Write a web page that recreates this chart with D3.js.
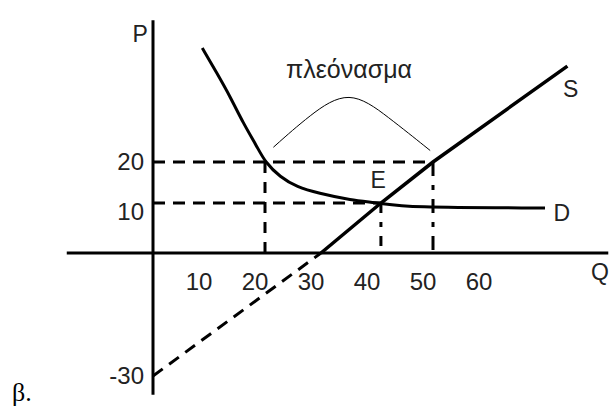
<!DOCTYPE html>
<html>
<head>
<meta charset="utf-8">
<script src="https://cdn.jsdelivr.net/npm/d3@7"></script>
<style>
    body { margin: 0; background: #fff; }
    svg { display: block; }
    text { font-family: 'Liberation Sans', Arial, sans-serif; fill: #222; }
</style>
</head>
<body>
<svg id="chart" width="609" height="412"></svg>
<script>
// demand curve (hand drawn)
const demandQ = [8.8, 11.4, 13.8, 16.1, 18.6, 20, 22.7, 25.7, 29.5, 35.2, 40.7, 45, 70],
    demandP = [47.8, 41.7, 35.9, 29.5, 23.7, 20, 16.3, 13.9, 12.4, 10.7, 10, 9.1, 9];

// supply line: dashed below the Q axis, solid above
const supplyLowQ = [0, 30],
    supplyLowP = [-30, 0],
    supplyQ = [30, 40.7, 50, 74],
    supplyP = [0, 10, 20, 43.4];

// equilibrium and surplus points
const eqQ = 40.7, eqP = 10,
    surplusP = 20, surplusQd = 20, surplusQs = 50;

// "πλεόνασμα" bump over the surplus
const bumpQ = [21.5, 28, 35, 42, 49.5],
    bumpP = [23.6, 31.5, 38, 31, 22.8];

const qTicks = [10, 20, 30, 40, 50, 60],
    pTicks = [20, 10, -30];

const d3svg = d3.select('#chart');

// P axis is not evenly spaced in the drawing, so a piecewise scale
const x = d3.scaleLinear().domain([0, 50]).range([153, 433]),
    y = d3.scaleLinear().domain([-30, 0, 10, 20]).range([376, 253, 203, 162]);

const toPts = (qs, ps) => qs.map((q, i) => [x(q), y(ps[i])]);

// axes
d3svg.append('line')
    .attr('x1', x(-15.4)).attr('x2', x(81.3))
    .attr('y1', y(0)).attr('y2', y(0))
    .attr('stroke', '#000').attr('stroke-width', 3);

d3svg.append('line')
    .attr('x1', x(0)).attr('x2', x(0))
    .attr('y1', y(54.6)).attr('y2', y(-34.6))
    .attr('stroke', '#000').attr('stroke-width', 3);

// dashed guides
const guides = [
    { q1: 0, p1: surplusP, q2: surplusQs, p2: surplusP, dash: '12,8' },
    { q1: 0, p1: eqP, q2: eqQ, p2: eqP, dash: '12,8' },
    { q1: surplusQd, p1: surplusP, q2: surplusQd, p2: 0, dash: '11,9' },
    { q1: surplusQs, p1: surplusP, q2: surplusQs, p2: 0, dash: '14,9,5,9' },
    { q1: eqQ, p1: eqP, q2: eqQ, p2: 0, dash: '10,9,5,9' }
];

d3svg.selectAll('.guide')
    .data(guides)
    .enter().append('line')
    .attr('class', 'guide')
    .attr('x1', d => x(d.q1)).attr('y1', d => y(d.p1))
    .attr('x2', d => x(d.q2)).attr('y2', d => y(d.p2))
    .attr('stroke', '#000')
    .attr('stroke-width', 3)
    .attr('stroke-dasharray', d => d.dash);

// demand
d3svg.append('path')
    .attr('d', d3.line().curve(d3.curveBasis)(toPts(demandQ, demandP)))
    .attr('fill', 'none')
    .attr('stroke', '#000')
    .attr('stroke-width', 3);

// supply
d3svg.append('path')
    .attr('d', d3.line()(toPts(supplyLowQ, supplyLowP)))
    .attr('fill', 'none')
    .attr('stroke', '#000')
    .attr('stroke-width', 3)
    .attr('stroke-dasharray', '12,8');

d3svg.append('path')
    .attr('d', d3.line()(toPts(supplyQ, supplyP)))
    .attr('fill', 'none')
    .attr('stroke', '#000')
    .attr('stroke-width', 3.5);

// surplus bump
d3svg.append('path')
    .attr('d', d3.line().curve(d3.curveBasis)(toPts(bumpQ, bumpP)))
    .attr('fill', 'none')
    .attr('stroke', '#000')
    .attr('stroke-width', 1);

// tick labels
d3svg.selectAll('.qlabel')
    .data(qTicks)
    .enter().append('text')
    .attr('class', 'qlabel')
    .attr('x', d => x(d) - 10)
    .attr('y', y(0) + 37)
    .attr('text-anchor', 'middle')
    .style('font-size', '24px')
    .text(d => d);

// the "10" label sits just under its guide in the drawing
d3svg.selectAll('.plabel')
    .data(pTicks)
    .enter().append('text')
    .attr('class', 'plabel')
    .attr('x', x(0) - 9)
    .attr('y', d => y(d) + (d === 10 ? 17 : 8))
    .attr('text-anchor', 'end')
    .style('font-size', '24px')
    .text(d => d);

// names
const names = [
    { t: 'P', q: -2.3, p: 49.2, anchor: 'middle', size: 23 },
    { t: 'Q', q: 79.8, p: -6.5, anchor: 'middle', size: 23 },
    { t: 'S', q: 74.6, p: 35.9, anchor: 'middle', size: 23 },
    { t: 'D', q: 71.5, p: 6.5, anchor: 'start', size: 23 },
    { t: 'E', q: 40.2, p: 13.6, anchor: 'middle', size: 23 },
    { t: 'πλεόνασμα', q: 35, p: 40.5, anchor: 'middle', size: 25 }
];

d3svg.selectAll('.name')
    .data(names)
    .enter().append('text')
    .attr('class', 'name')
    .attr('x', d => x(d.q))
    .attr('y', d => y(d.p))
    .attr('text-anchor', d => d.anchor)
    .style('font-size', d => d.size + 'px')
    .text(d => d.t);

d3svg.append('text')
    .attr('x', 12)
    .attr('y', 401)
    .style('font-family', "'Liberation Serif', 'Times New Roman', serif")
    .style('font-size', '26px')
    .style('fill', '#000')
    .text('β.');
</script>
</body>
</html>
